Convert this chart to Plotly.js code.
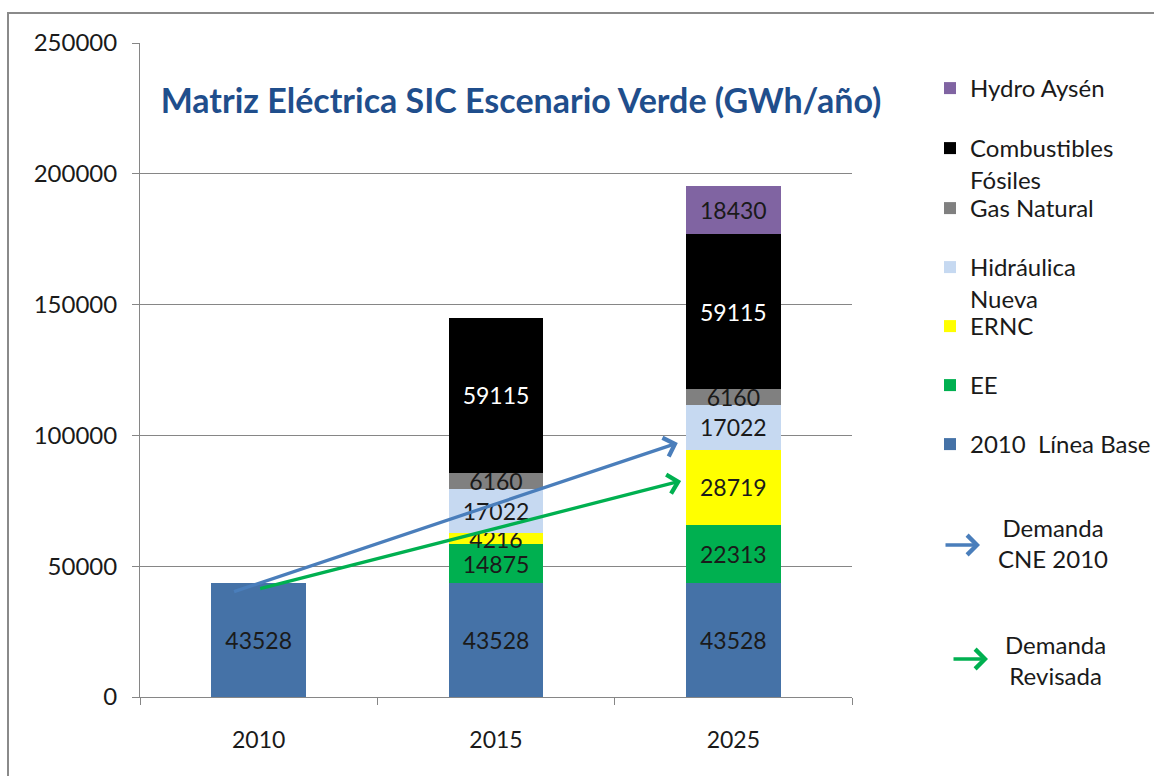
<!DOCTYPE html>
<html>
<head>
<meta charset="utf-8">
<script src="https://cdn.plot.ly/plotly-3.0.1.min.js"></script>
<style>html,body{margin:0;padding:0;background:#fff;}#chart{width:1154px;height:776px;}</style>
</head>
<body>
<div id="chart"></div>
<script>
// ---- data ----
const years = ['2010', '2015', '2025'];
const lineaBase = [43528, 43528, 43528];
const ee = [null, 14875, 22313];
const ernc = [null, 4216, 28719];
const hidraulicaNueva = [null, 17022, 17022];
const gasNatural = [null, 6160, 6160];
const combustiblesFosiles = [null, 59115, 59115];
const hydroAysen = [null, null, 18430];
const yTicks = [0, 50000, 100000, 150000, 200000, 250000];

// demand arrows: [start, end] positions (category index) and values
const demandaCNEx = [-0.11, 1.766];
const demandaCNE = [40100, 97100];
const demandaRevX = [0.0, 1.78];
const demandaRev = [41300, 82600];

const FONT = 'Lato, "Open Sans", sans-serif';
const TXT = '#1a1a1a';

function px2px(px) { return (px - 140) / 712; }
function py2py(py) { return (697 - py) / 654; }

const series = [
  {name: '2010  Línea Base', y: lineaBase, color: '#4572A7', tc: TXT, row: 444},
  {name: 'EE', y: ee, color: '#00B050', tc: TXT, row: 385},
  {name: 'ERNC', y: ernc, color: '#FFFF00', tc: TXT, row: 326},
  {name: 'Hidráulica<br>Nueva', y: hidraulicaNueva, color: '#C6D9F1', tc: TXT, row: 267},
  {name: 'Gas Natural', y: gasNatural, color: '#808080', tc: TXT, row: 208},
  {name: 'Combustibles<br>Fósiles', y: combustiblesFosiles, color: '#000000', tc: '#ffffff', row: 148},
  {name: 'Hydro Aysén', y: hydroAysen, color: '#8064A2', tc: TXT, row: 88}
];

const traces = [];
const layout = {
  width: 1154, height: 776,
  margin: {l: 140, r: 302, t: 43, b: 79, pad: 0, autoexpand: false},
  paper_bgcolor: '#ffffff', plot_bgcolor: '#ffffff',
  font: {family: FONT, color: TXT, size: 24},
  barmode: 'stack', bargap: 0.6,
  showlegend: true,
  title: {
    text: 'Matriz Eléctrica SIC Escenario Verde (GWh/año)',
    font: {family: FONT, size: 34, color: '#1F4E8C', weight: 'bold'},
    xref: 'container', yref: 'container', x: 521 / 1154, xanchor: 'center',
    y: 1 - 101 / 776, yanchor: 'middle'
  },
  xaxis: {
    type: 'category', range: [-0.5, 2.5], fixedrange: true,
    showline: true, linecolor: '#868686', linewidth: 1,
    ticks: 'outside', ticklen: 7, tickcolor: '#868686', tickson: 'boundaries',
    tickfont: {family: FONT, size: 23, color: TXT},
    ticklabelstandoff: 22, showgrid: false, zeroline: false
  },
  yaxis: {
    range: [0, 250000], tickvals: yTicks, ticktext: yTicks.map(String),
    showline: true, linecolor: '#868686', linewidth: 1,
    ticks: 'outside', ticklen: 7, tickcolor: '#868686',
    showgrid: true, gridcolor: '#868686', gridwidth: 1, zeroline: false,
    tickfont: {family: FONT, size: 24, color: TXT},
    ticklabelstandoff: 10
  },
  shapes: [{
    type: 'rect', xref: 'paper', yref: 'paper', layer: 'below',
    x0: px2px(8), x1: px2px(1170), y0: py2py(800), y1: py2py(13),
    line: {color: '#8a8a8a', width: 2}, fillcolor: 'rgba(0,0,0,0)'
  }],
  annotations: []
};

series.forEach((s, i) => {
  const key = i === 0 ? 'legend' : 'legend' + (i + 1);
  traces.push({
    type: 'bar', name: s.name, x: years, y: s.y,
    marker: {color: s.color, line: {width: 0}},
    text: s.y.map(v => v == null ? '' : String(v)),
    textposition: 'inside', insidetextanchor: 'middle', constraintext: 'none',
    textfont: {family: FONT, size: 23, color: s.tc},
    hoverinfo: 'skip', legend: key
  });
  layout[key] = {
    x: px2px(930), xanchor: 'left', y: py2py(s.row - 22), yanchor: 'top',
    bgcolor: 'rgba(0,0,0,0)', borderwidth: 0, valign: 'top',
    font: {family: FONT, size: 24, color: TXT}
  };
});

// demand arrows on the chart
[[demandaCNEx, demandaCNE, '#4A7EBB'], [demandaRevX, demandaRev, '#00B050']].forEach(([xs, ys, c]) => {
  layout.annotations.push({
    x: xs[1], y: ys[1], ax: xs[0], ay: ys[0], xref: 'x', yref: 'y', axref: 'x', ayref: 'y',
    text: '', showarrow: true, arrowhead: 4, arrowsize: 1.15, arrowwidth: 3.3, arrowcolor: c, standoff: 0
  });
});

// legend entries for the arrows
[[980, 545, 1053, 543, '#4A7EBB', 'Demanda<br>CNE 2010'], [988, 659, 1055, 660, '#00B050', 'Demanda<br>Revisada']].forEach(([tx, ty, lx, ly, c, t]) => {
  layout.annotations.push({
    x: px2px(tx), y: py2py(ty), xref: 'paper', yref: 'paper', ax: -36, ay: 0,
    text: '', showarrow: true, arrowhead: 4, arrowsize: 1.15, arrowwidth: 3.3, arrowcolor: c, standoff: 0
  });
  layout.annotations.push({
    x: px2px(lx), y: py2py(ly), xref: 'paper', yref: 'paper', xanchor: 'center', yanchor: 'middle',
    text: t, showarrow: false, align: 'center', font: {family: FONT, size: 24, color: TXT}
  });
});

Plotly.newPlot('chart', traces, layout, {displayModeBar: false, staticPlot: true});
</script>
</body>
</html>
